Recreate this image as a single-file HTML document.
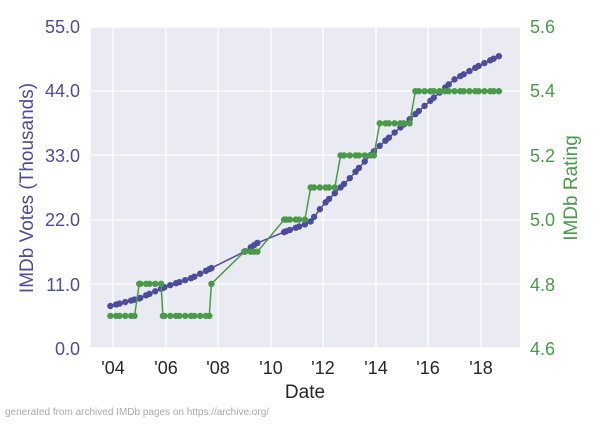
<!DOCTYPE html>
<html><head><meta charset="utf-8"><style>
html,body{margin:0;padding:0;background:#fff;}
svg text{font-family:"Liberation Sans",Arial,sans-serif;}
</style></head><body>
<svg id="s" width="600" height="420" xmlns="http://www.w3.org/2000/svg">
<rect x="91" y="27" width="429" height="321" fill="#eaeaf2"/>
<g id="grid" stroke="#fff" stroke-width="1.3"></g>
<g id="ser"></g>
<g font-size="18" fill="#4c4c9c" text-anchor="end">
<text x="80" y="33">55.0</text><text x="80" y="97">44.0</text><text x="80" y="162">33.0</text>
<text x="80" y="226">22.0</text><text x="80" y="291">11.0</text><text x="80" y="355">0.0</text>
</g>
<g font-size="18" fill="#4a9a4a">
<text x="530" y="33">5.6</text><text x="530" y="97">5.4</text><text x="530" y="162">5.2</text>
<text x="530" y="226">5.0</text><text x="530" y="291">4.8</text><text x="530" y="355">4.6</text>
</g>
<g font-size="18" fill="#262626" text-anchor="middle">
<text x="113" y="374">'04</text><text x="166" y="374">'06</text><text x="218" y="374">'08</text>
<text x="271" y="374">'10</text><text x="323" y="374">'12</text><text x="376" y="374">'14</text>
<text x="428" y="374">'16</text><text x="481" y="374">'18</text>
</g>
<text x="305" y="398" font-size="19" fill="#262626" text-anchor="middle">Date</text>
<text transform="translate(33,188) rotate(-90)" font-size="19" fill="#4c4c9c" text-anchor="middle">IMDb Votes (Thousands)</text>
<text transform="translate(577,188) rotate(-90)" font-size="19" fill="#4a9a4a" text-anchor="middle">IMDb Rating</text>
<text x="5" y="415" font-size="10" fill="#aaaaaa">generated from archived IMDb pages on https://archive.org/</text>
</svg>
<script>
var ns="http://www.w3.org/2000/svg";
function el(p,t,a){var e=document.createElementNS(ns,t);for(var k in a)e.setAttribute(k,a[k]);p.appendChild(e);return e;}
var g=document.getElementById('grid');
[113,166,218,271,323,376,428,481].forEach(function(x){el(g,'line',{x1:x,x2:x,y1:27,y2:348});});
[27,91,155,220,284,348].forEach(function(y){el(g,'line',{x1:91,x2:520,y1:y,y2:y});});
function X(t){return 113+(t-2004)*26.25;}
function YV(v){return 348-v*321/55;}
function YR(r){return 348-(r-4.6)*321;}
var kn=[[2003.9,7.2],[2005,8.5],[2006,10.5],[2007,12],[2007.8,13.8],[2009,16.5],[2009.5,18],[2010.6,20],[2011.5,21.5],[2012,24.5],[2013,29],[2014,34],[2015,38],[2016,42],[2017,46],[2018,48.5],[2018.7,50]];
function votes(t){for(var i=0;i<kn.length-1;i++){if(t<=kn[i+1][0]){var a=kn[i],b=kn[i+1];return a[1]+(b[1]-a[1])*(t-a[0])/(b[0]-a[0]);}}return 50;}
function rating(t){
if(t<2005)return 4.7;if(t<2005.9)return 4.8;if(t<2007.75)return 4.7;if(t<2008.9)return 4.8;
if(t<2010.5)return 4.9;if(t<2011.4)return 5.0;if(t<2012.6)return 5.1;if(t<2013.95)return 5.2;if(t<2015.45)return 5.3;return 5.4;}
var ts=[];
var i=0;
for(var t=2003.9;t<=2018.71;t+=0.19){i++;if(t>2007.85&&t<2008.95)continue;if(t>2009.55&&t<2010.55)continue;ts.push(t+((i%3)-1)*0.03);}
[2007.75,2009,2009.5,2010.6,2005.0,2005.9,2018.7].forEach(function(v){ts.push(v);});
ts.sort(function(a,b){return a-b;});
var s=document.getElementById('ser');
var pv=ts.map(function(t){return X(t).toFixed(1)+','+YV(votes(t)).toFixed(1);}).join(' ');
el(s,'polyline',{points:pv,fill:'none',stroke:'#4c4c9c','stroke-width':1.5});
ts.forEach(function(t){el(s,'circle',{cx:X(t),cy:YV(votes(t)),r:3.2,fill:'#4c4c9c'});});
var pr=ts.map(function(t){return X(t).toFixed(1)+','+YR(rating(t)).toFixed(1);}).join(' ');
el(s,'polyline',{points:pr,fill:'none',stroke:'#4a9a4a','stroke-width':1.5});
ts.forEach(function(t){el(s,'circle',{cx:X(t),cy:YR(rating(t)),r:3.2,fill:'#4a9a4a'});});
</script>
</body></html>
